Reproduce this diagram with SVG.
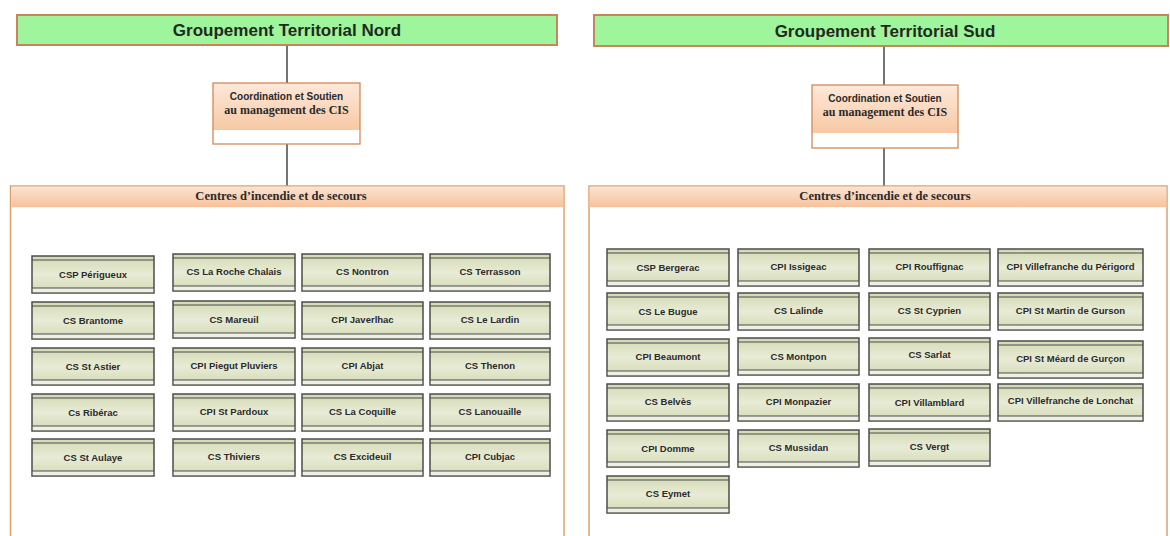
<svg xmlns="http://www.w3.org/2000/svg" width="1170" height="536" viewBox="0 0 1170 536">
  <defs>
    <linearGradient id="boxfill" x1="0" y1="0" x2="0" y2="1">
      <stop offset="0" stop-color="#d3dab3"/>
      <stop offset="0.5" stop-color="#e8ebd6"/>
      <stop offset="1" stop-color="#d3dab3"/>
    </linearGradient>
    <linearGradient id="peach" x1="0" y1="0" x2="0" y2="1">
      <stop offset="0" stop-color="#fde9da"/>
      <stop offset="1" stop-color="#f7c8a4"/>
    </linearGradient>
    <linearGradient id="band" x1="0" y1="0" x2="0" y2="1">
      <stop offset="0" stop-color="#fbe3d2"/>
      <stop offset="1" stop-color="#f6c29c"/>
    </linearGradient>
  </defs>
  <style>
    .hdr rect { fill: #9ff59b; stroke: #c8845a; stroke-width: 2; }
    .hdr text { font-family: "Liberation Sans", Arial, sans-serif; font-weight: bold; font-size: 17px; fill: #1f2a1f; text-anchor: middle; }
    .coord .top { fill: url(#peach); }
    .coord .frame { fill: none; stroke: #d08a58; stroke-width: 1.3; }
    .coord text { font-weight: bold; fill: #2a2a2a; text-anchor: middle; }
    .coord .l1 { font-family: "Liberation Sans", Arial, sans-serif; font-size: 10px; }
    .coord .l2 { font-family: "Liberation Serif", "Times New Roman", serif; font-size: 12px; }
    .pane .body { fill: #ffffff; stroke: #dc9c68; stroke-width: 1.4; }
    .pane .band { fill: url(#band); }
    .pane text { font-family: "Liberation Serif", "Times New Roman", serif; font-weight: bold; font-size: 12.5px; fill: #2a2a2a; text-anchor: middle; }
    .cis .bx { fill: url(#boxfill); stroke: #4c4c4c; stroke-width: 1.5; }
    .cis .foot { fill: #eef0e6; }
    .cis .ln { stroke: #4c4c4c; stroke-width: 1.2; fill: none; }
    .cis text { font-family: "Liberation Sans", Arial, sans-serif; font-weight: bold; font-size: 9.5px; fill: #2b2b2b; text-anchor: middle; }
    .link { stroke: #3a3a3a; stroke-width: 1.4; fill: none; }
  </style>

  <rect width="1170" height="536" fill="#ffffff"/>

  <!-- connectors -->
  <g id="connectors">
    <path class="link" d="M287 45V83"/>
    <path class="link" d="M287 144V186"/>
    <path class="link" d="M884 46V85"/>
    <path class="link" d="M884 148V186"/>
  </g>

  <!-- headquarters -->
  <g id="gt-nord" class="hdr">
    <rect x="17" y="15" width="540" height="30"/>
    <text x="287" y="36">Groupement Territorial Nord</text>
  </g>
  <g id="gt-sud" class="hdr">
    <rect x="594" y="15" width="574" height="31"/>
    <text x="885" y="36.5">Groupement Territorial Sud</text>
  </g>

  <!-- coordination units -->
  <g id="coord-nord" class="coord">
    <rect x="213" y="83" width="147" height="61" fill="#ffffff"/>
    <rect class="top" x="213" y="83" width="147" height="47"/>
    <rect class="frame" x="213" y="83" width="147" height="61"/>
    <text class="l1" x="286.5" y="99.5">Coordination et Soutien</text>
    <text class="l2" x="286.5" y="113.5">au management des CIS</text>
  </g>
  <g id="coord-sud" class="coord">
    <rect x="812" y="85" width="146" height="63" fill="#ffffff"/>
    <rect class="top" x="812" y="85" width="146" height="48"/>
    <rect class="frame" x="812" y="85" width="146" height="63"/>
    <text class="l1" x="885" y="101.5">Coordination et Soutien</text>
    <text class="l2" x="885" y="115.5">au management des CIS</text>
  </g>

  <!-- centre panels -->
  <g id="cis-nord" class="pane">
    <rect class="body" x="10.5" y="186" width="553.5" height="360"/>
    <rect class="band" x="11.2" y="186.7" width="552" height="20.5"/>
    <text x="281" y="200">Centres d’incendie et de secours</text>
  </g>
  <g id="cis-sud" class="pane">
    <rect class="body" x="589" y="186" width="578" height="360"/>
    <rect class="band" x="589.7" y="186.7" width="576.6" height="20.5"/>
    <text x="885" y="200">Centres d’incendie et de secours</text>
  </g>

  <!-- Nord centres -->
  <g id="n-csp-perigueux" class="cis" transform="translate(32,256)"><rect class="bx" width="122" height="37"/><rect class="foot" x="0.8" y="32" width="120.4" height="4.2"/><path class="ln" d="M0 4H122M0 32H122"/><text x="61" y="22">CSP Périgueux</text></g>
  <g id="n-cs-brantome" class="cis" transform="translate(32,302)"><rect class="bx" width="122" height="37"/><rect class="foot" x="0.8" y="32" width="120.4" height="4.2"/><path class="ln" d="M0 4H122M0 32H122"/><text x="61" y="22">CS Brantome</text></g>
  <g id="n-cs-st-astier" class="cis" transform="translate(32,348)"><rect class="bx" width="122" height="37"/><rect class="foot" x="0.8" y="32" width="120.4" height="4.2"/><path class="ln" d="M0 4H122M0 32H122"/><text x="61" y="22">CS St Astier</text></g>
  <g id="n-cs-riberac" class="cis" transform="translate(32,394)"><rect class="bx" width="122" height="37"/><rect class="foot" x="0.8" y="32" width="120.4" height="4.2"/><path class="ln" d="M0 4H122M0 32H122"/><text x="61" y="22">Cs Ribérac</text></g>
  <g id="n-cs-st-aulaye" class="cis" transform="translate(32,439)"><rect class="bx" width="122" height="37"/><rect class="foot" x="0.8" y="32" width="120.4" height="4.2"/><path class="ln" d="M0 4H122M0 32H122"/><text x="61" y="22">CS St Aulaye</text></g>

  <g id="n-cs-la-roche-chalais" class="cis" transform="translate(173,254)"><rect class="bx" width="122" height="37"/><rect class="foot" x="0.8" y="32" width="120.4" height="4.2"/><path class="ln" d="M0 4H122M0 32H122"/><text x="61" y="21">CS La Roche Chalais</text></g>
  <g id="n-cs-mareuil" class="cis" transform="translate(173,301)"><rect class="bx" width="122" height="37"/><rect class="foot" x="0.8" y="32" width="120.4" height="4.2"/><path class="ln" d="M0 4H122M0 32H122"/><text x="61" y="22">CS Mareuil</text></g>
  <g id="n-cpi-piegut-pluviers" class="cis" transform="translate(173,348)"><rect class="bx" width="122" height="37"/><rect class="foot" x="0.8" y="32" width="120.4" height="4.2"/><path class="ln" d="M0 4H122M0 32H122"/><text x="61" y="21">CPI Piegut Pluviers</text></g>
  <g id="n-cpi-st-pardoux" class="cis" transform="translate(173,394)"><rect class="bx" width="122" height="37"/><rect class="foot" x="0.8" y="32" width="120.4" height="4.2"/><path class="ln" d="M0 4H122M0 32H122"/><text x="61" y="21">CPI St Pardoux</text></g>
  <g id="n-cs-thiviers" class="cis" transform="translate(173,439)"><rect class="bx" width="122" height="37"/><rect class="foot" x="0.8" y="32" width="120.4" height="4.2"/><path class="ln" d="M0 4H122M0 32H122"/><text x="61" y="21">CS Thiviers</text></g>

  <g id="n-cs-nontron" class="cis" transform="translate(302,254)"><rect class="bx" width="121" height="37"/><rect class="foot" x="0.8" y="32" width="119.4" height="4.2"/><path class="ln" d="M0 4H121M0 32H121"/><text x="60.5" y="21">CS Nontron</text></g>
  <g id="n-cpi-javerlhac" class="cis" transform="translate(302,302)"><rect class="bx" width="121" height="37"/><rect class="foot" x="0.8" y="32" width="119.4" height="4.2"/><path class="ln" d="M0 4H121M0 32H121"/><text x="60.5" y="21">CPI Javerlhac</text></g>
  <g id="n-cpi-abjat" class="cis" transform="translate(302,348)"><rect class="bx" width="121" height="37"/><rect class="foot" x="0.8" y="32" width="119.4" height="4.2"/><path class="ln" d="M0 4H121M0 32H121"/><text x="60.5" y="21">CPI Abjat</text></g>
  <g id="n-cs-la-coquille" class="cis" transform="translate(302,394)"><rect class="bx" width="121" height="37"/><rect class="foot" x="0.8" y="32" width="119.4" height="4.2"/><path class="ln" d="M0 4H121M0 32H121"/><text x="60.5" y="21">CS La Coquille</text></g>
  <g id="n-cs-excideuil" class="cis" transform="translate(302,439)"><rect class="bx" width="121" height="37"/><rect class="foot" x="0.8" y="32" width="119.4" height="4.2"/><path class="ln" d="M0 4H121M0 32H121"/><text x="60.5" y="21">CS Excideuil</text></g>

  <g id="n-cs-terrasson" class="cis" transform="translate(430,254)"><rect class="bx" width="120" height="37"/><rect class="foot" x="0.8" y="32" width="118.4" height="4.2"/><path class="ln" d="M0 4H120M0 32H120"/><text x="60" y="21">CS Terrasson</text></g>
  <g id="n-cs-le-lardin" class="cis" transform="translate(430,302)"><rect class="bx" width="120" height="37"/><rect class="foot" x="0.8" y="32" width="118.4" height="4.2"/><path class="ln" d="M0 4H120M0 32H120"/><text x="60" y="21">CS Le Lardin</text></g>
  <g id="n-cs-thenon" class="cis" transform="translate(430,348)"><rect class="bx" width="120" height="37"/><rect class="foot" x="0.8" y="32" width="118.4" height="4.2"/><path class="ln" d="M0 4H120M0 32H120"/><text x="60" y="21">CS Thenon</text></g>
  <g id="n-cs-lanouaille" class="cis" transform="translate(430,394)"><rect class="bx" width="120" height="37"/><rect class="foot" x="0.8" y="32" width="118.4" height="4.2"/><path class="ln" d="M0 4H120M0 32H120"/><text x="60" y="21">CS Lanouaille</text></g>
  <g id="n-cpi-cubjac" class="cis" transform="translate(430,439)"><rect class="bx" width="120" height="37"/><rect class="foot" x="0.8" y="32" width="118.4" height="4.2"/><path class="ln" d="M0 4H120M0 32H120"/><text x="60" y="21">CPI Cubjac</text></g>

  <!-- Sud centres -->
  <g id="s-csp-bergerac" class="cis" transform="translate(607,249)"><rect class="bx" width="122" height="37"/><rect class="foot" x="0.8" y="32" width="120.4" height="4.2"/><path class="ln" d="M0 4H122M0 32H122"/><text x="61" y="21.5">CSP Bergerac</text></g>
  <g id="s-cs-le-bugue" class="cis" transform="translate(607,293)"><rect class="bx" width="122" height="37"/><rect class="foot" x="0.8" y="32" width="120.4" height="4.2"/><path class="ln" d="M0 4H122M0 32H122"/><text x="61" y="21.5">CS Le Bugue</text></g>
  <g id="s-cpi-beaumont" class="cis" transform="translate(607,339)"><rect class="bx" width="122" height="37"/><rect class="foot" x="0.8" y="32" width="120.4" height="4.2"/><path class="ln" d="M0 4H122M0 32H122"/><text x="61" y="21">CPI Beaumont</text></g>
  <g id="s-cs-belves" class="cis" transform="translate(607,384)"><rect class="bx" width="122" height="37"/><rect class="foot" x="0.8" y="32" width="120.4" height="4.2"/><path class="ln" d="M0 4H122M0 32H122"/><text x="61" y="21">CS Belvès</text></g>
  <g id="s-cpi-domme" class="cis" transform="translate(607,430)"><rect class="bx" width="122" height="37"/><rect class="foot" x="0.8" y="32" width="120.4" height="4.2"/><path class="ln" d="M0 4H122M0 32H122"/><text x="61" y="21.5">CPI Domme</text></g>
  <g id="s-cs-eymet" class="cis" transform="translate(607,476)"><rect class="bx" width="122" height="37"/><rect class="foot" x="0.8" y="32" width="120.4" height="4.2"/><path class="ln" d="M0 4H122M0 32H122"/><text x="61" y="21">CS Eymet</text></g>

  <g id="s-cpi-issigeac" class="cis" transform="translate(738,249)"><rect class="bx" width="121" height="37"/><rect class="foot" x="0.8" y="32" width="119.4" height="4.2"/><path class="ln" d="M0 4H121M0 32H121"/><text x="60.5" y="21">CPI Issigeac</text></g>
  <g id="s-cs-lalinde" class="cis" transform="translate(738,293)"><rect class="bx" width="121" height="37"/><rect class="foot" x="0.8" y="32" width="119.4" height="4.2"/><path class="ln" d="M0 4H121M0 32H121"/><text x="60.5" y="21">CS Lalinde</text></g>
  <g id="s-cs-montpon" class="cis" transform="translate(738,338)"><rect class="bx" width="121" height="37"/><rect class="foot" x="0.8" y="32" width="119.4" height="4.2"/><path class="ln" d="M0 4H121M0 32H121"/><text x="60.5" y="21.5">CS Montpon</text></g>
  <g id="s-cpi-monpazier" class="cis" transform="translate(738,384)"><rect class="bx" width="121" height="37"/><rect class="foot" x="0.8" y="32" width="119.4" height="4.2"/><path class="ln" d="M0 4H121M0 32H121"/><text x="60.5" y="21">CPI Monpazier</text></g>
  <g id="s-cs-mussidan" class="cis" transform="translate(738,430)"><rect class="bx" width="121" height="37"/><rect class="foot" x="0.8" y="32" width="119.4" height="4.2"/><path class="ln" d="M0 4H121M0 32H121"/><text x="60.5" y="21">CS Mussidan</text></g>

  <g id="s-cpi-rouffignac" class="cis" transform="translate(869,249)"><rect class="bx" width="121" height="37"/><rect class="foot" x="0.8" y="32" width="119.4" height="4.2"/><path class="ln" d="M0 4H121M0 32H121"/><text x="60.5" y="21">CPI Rouffignac</text></g>
  <g id="s-cs-st-cyprien" class="cis" transform="translate(869,293)"><rect class="bx" width="121" height="37"/><rect class="foot" x="0.8" y="32" width="119.4" height="4.2"/><path class="ln" d="M0 4H121M0 32H121"/><text x="60.5" y="21">CS St Cyprien</text></g>
  <g id="s-cs-sarlat" class="cis" transform="translate(869,338)"><rect class="bx" width="121" height="37"/><rect class="foot" x="0.8" y="32" width="119.4" height="4.2"/><path class="ln" d="M0 4H121M0 32H121"/><text x="60.5" y="20">CS Sarlat</text></g>
  <g id="s-cpi-villamblard" class="cis" transform="translate(869,384)"><rect class="bx" width="121" height="37"/><rect class="foot" x="0.8" y="32" width="119.4" height="4.2"/><path class="ln" d="M0 4H121M0 32H121"/><text x="60.5" y="21.5">CPI Villamblard</text></g>
  <g id="s-cs-vergt" class="cis" transform="translate(869,429)"><rect class="bx" width="121" height="37"/><rect class="foot" x="0.8" y="32" width="119.4" height="4.2"/><path class="ln" d="M0 4H121M0 32H121"/><text x="60.5" y="21">CS Vergt</text></g>

  <g id="s-cpi-villefranche-du-perigord" class="cis" transform="translate(998,249)"><rect class="bx" width="145" height="37"/><rect class="foot" x="0.8" y="32" width="143.4" height="4.2"/><path class="ln" d="M0 4H145M0 32H145"/><text x="72.5" y="21">CPI Villefranche du Périgord</text></g>
  <g id="s-cpi-st-martin-de-gurson" class="cis" transform="translate(998,293)"><rect class="bx" width="145" height="37"/><rect class="foot" x="0.8" y="32" width="143.4" height="4.2"/><path class="ln" d="M0 4H145M0 32H145"/><text x="72.5" y="21">CPI St Martin de Gurson</text></g>
  <g id="s-cpi-st-meard-de-gurcon" class="cis" transform="translate(998,341)"><rect class="bx" width="145" height="37"/><rect class="foot" x="0.8" y="32" width="143.4" height="4.2"/><path class="ln" d="M0 4H145M0 32H145"/><text x="72.5" y="21">CPI St Méard de Gurçon</text></g>
  <g id="s-cpi-villefranche-de-lonchat" class="cis" transform="translate(998,384)"><rect class="bx" width="145" height="37"/><rect class="foot" x="0.8" y="32" width="143.4" height="4.2"/><path class="ln" d="M0 4H145M0 32H145"/><text x="72.5" y="19.5">CPI Villefranche de Lonchat</text></g>
</svg>
